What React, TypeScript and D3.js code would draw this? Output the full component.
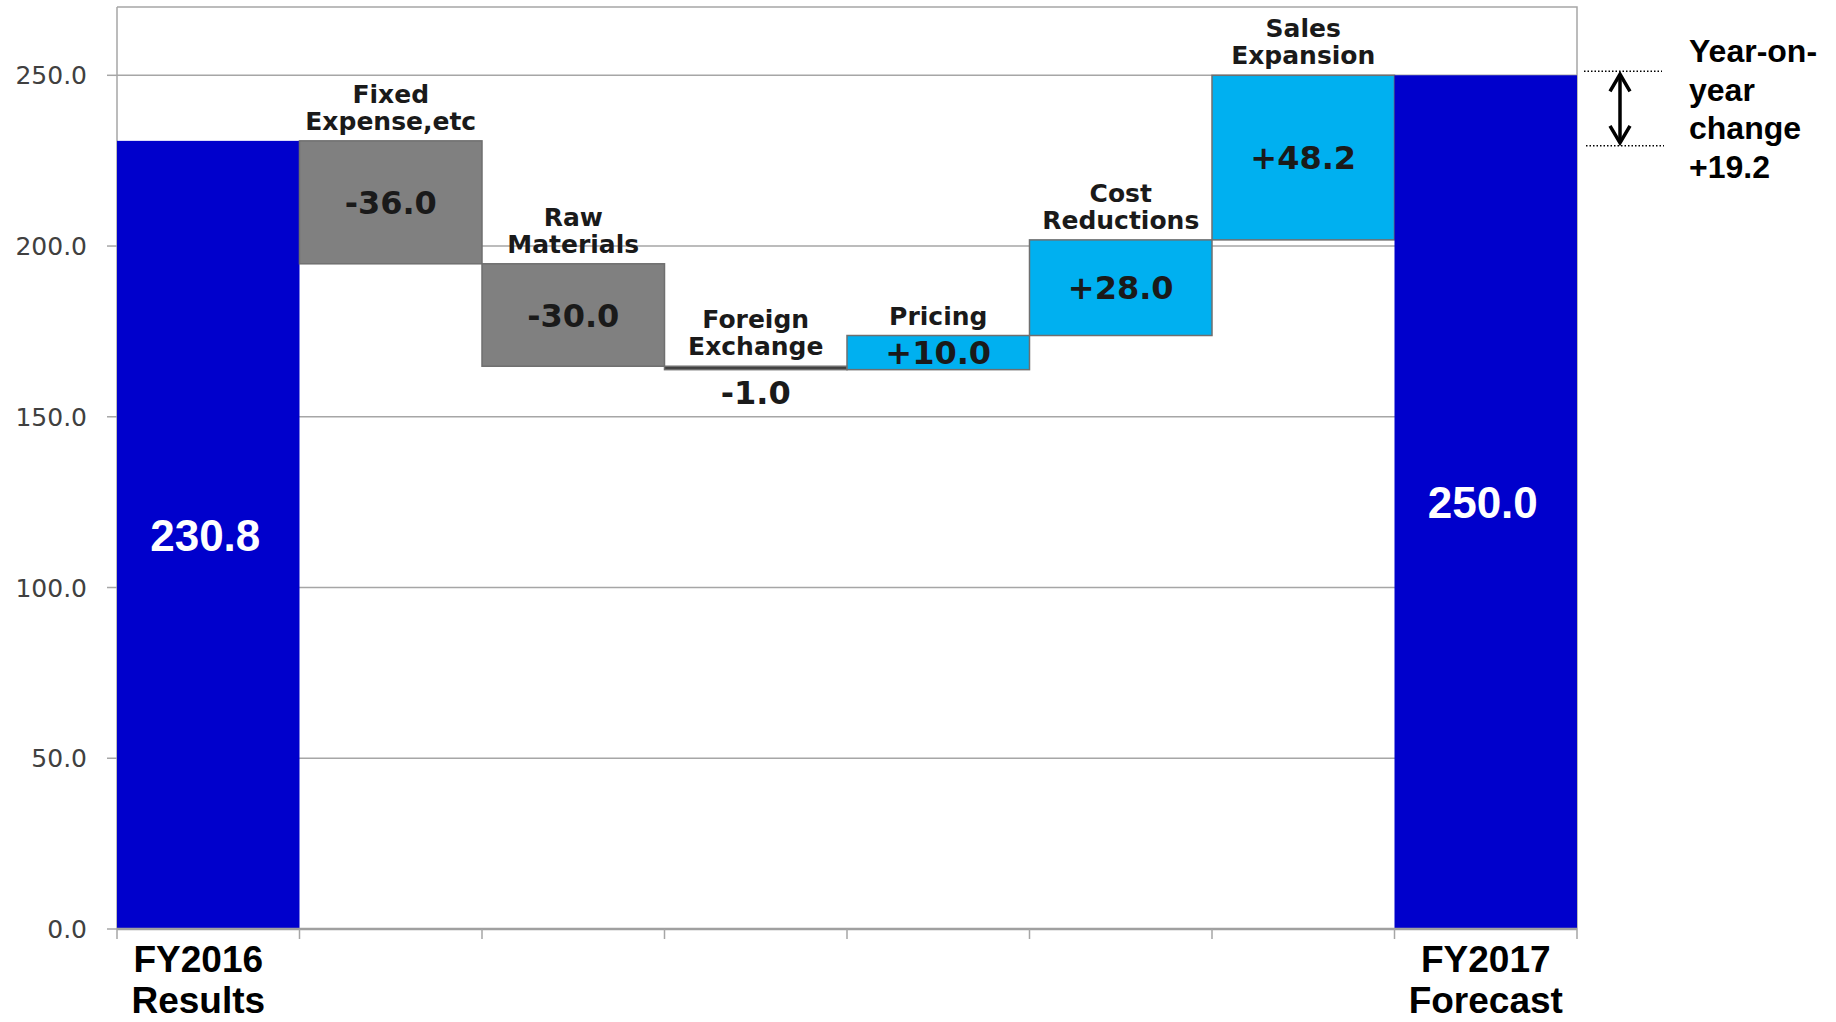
import React from 'react';
import * as d3 from 'd3';

// waterfall steps
const categories = ["FY2016 Results", "Fixed Expense,etc", "Raw Materials", "Foreign Exchange", "Pricing", "Cost Reductions", "Sales Expansion", "FY2017 Forecast"];
const values = [230.8, -36.0, -30.0, -1.0, 10.0, 28.0, 48.2, 250.0];
const kinds = ["total", "delta", "delta", "delta", "delta", "delta", "delta", "total"];
const valueLabels = ["230.8", "-36.0", "-30.0", "-1.0", "+10.0", "+28.0", "+48.2", "250.0"];
const insideLabels = [[], ["Fixed", "Expense,etc"], ["Raw", "Materials"], ["Foreign", "Exchange"], ["Pricing"], ["Cost", "Reductions"], ["Sales", "Expansion"], []];
const axisLabels = [["FY2016", "Results"], [], [], [], [], [], [], ["FY2017", "Forecast"]];
const yTicks = [0, 50, 100, 150, 200, 250];
const changeLines = ["Year-on-", "year", "change", "+19.2"];

const width = 1836;
const height = 1022;
const marginLeft = 117;
const marginRight = 259;
const marginTop = 7;
const marginBottom = 93;

const colorTotal = "#0000cc";
const colorDown = "#808080";
const colorUp = "#00b0f0";
const gridColor = "#a6a6a6";
const labelFont = "'DejaVu Sans', Verdana, sans-serif";
const arialFont = "'Liberation Sans', Arial, sans-serif";

const App: React.FC = () => {
  const x = d3.scaleBand()
    .domain(categories)
    .range([marginLeft, width - marginRight])
    .padding(0);

  const y = d3.scaleLinear()
    .domain([0, 270])
    .range([height - marginBottom, marginTop]);

  // running total -> bar start / end
  let running = 0;
  const bars = categories.map((c, i) => {
    let lo: number, hi: number;
    if (kinds[i] === "total") {
      lo = 0; hi = values[i];
      running = values[i];
    } else {
      const start = running;
      const end = running + values[i];
      lo = Math.min(start, end); hi = Math.max(start, end);
      running = end;
    }
    return { c, i, lo, hi, v: values[i], kind: kinds[i] };
  });

  const bw = x.bandwidth();
  const plotRight = width - marginRight;
  const plotBottom = height - marginBottom;

  const startTotal = values[0];
  const endTotal = values[values.length - 1];
  const arrowX = plotRight + 43;
  const yTop = y(endTotal) - 4;
  const yBot = y(startTotal) + 5;

  return (
    <svg width={width} height={height} style={{ position: 'absolute', left: 0, top: 0, background: '#fff' }}>
      {/* gridlines */}
      {yTicks.filter(t => t > 0).map(t => (
        <line key={t} x1={marginLeft} x2={plotRight} y1={y(t)} y2={y(t)} stroke={gridColor} strokeWidth={1.5} />
      ))}
      {/* plot border */}
      <path d={`M${marginLeft},${marginTop}H${plotRight}V${plotBottom}`} fill="none" stroke={gridColor} strokeWidth={1.5} />
      <line x1={marginLeft} x2={marginLeft} y1={marginTop} y2={plotBottom} stroke={gridColor} strokeWidth={1.5} />

      {/* y axis ticks + labels */}
      {yTicks.map(t => (
        <g key={t}>
          <line x1={marginLeft - 10} x2={marginLeft} y1={y(t)} y2={y(t)} stroke={gridColor} strokeWidth={1.5} />
          <text x={marginLeft - 30} y={y(t)} dy="0.36em" textAnchor="end" fontFamily={labelFont} fontSize={25} fill="#404040">{d3.format(".1f")(t)}</text>
        </g>
      ))}

      {/* bars */}
      {bars.map(b => {
        const x0 = x(b.c)!;
        const top = y(b.hi);
        const h = y(b.lo) - y(b.hi);
        const fill = b.kind === "total" ? colorTotal : b.v < 0 ? colorDown : colorUp;
        const thin = h < 6;
        return (
          <rect key={b.c} x={x0} y={top} width={bw} height={h}
            fill={thin ? "#404040" : fill}
            stroke={b.kind === "total" ? "none" : "#6f6f6f"} strokeWidth={1.5} />
        );
      })}

      {/* x axis line + ticks */}
      <line x1={marginLeft} x2={plotRight} y1={plotBottom} y2={plotBottom} stroke="#a0a0a0" strokeWidth={2.5} />
      {d3.range(categories.length + 1).map(k => {
        const xx = marginLeft + k * x.step();
        return <line key={k} x1={xx} x2={xx} y1={plotBottom} y2={plotBottom + 10} stroke={gridColor} strokeWidth={1.5} />;
      })}

      {/* category labels above delta bars */}
      {bars.map(b => {
        const lines = insideLabels[b.i];
        const cx = x(b.c)! + bw / 2;
        const base = y(b.hi) - 11;
        return lines.map((ln, k) => (
          <text key={b.c + k} x={cx} y={base - (lines.length - 1 - k) * 27} textAnchor="middle"
            fontFamily={labelFont} fontWeight="bold" fontSize={25} fill="#1a1a1a">{ln}</text>
        ));
      })}

      {/* value labels */}
      {bars.map(b => {
        const cx = x(b.c)! + bw / 2;
        const h = y(b.lo) - y(b.hi);
        if (b.kind === "total") {
          return <text key={"v" + b.c} x={cx - 3} y={(y(b.lo) + y(b.hi)) / 2} dy="0.36em" textAnchor="middle"
            fontFamily={arialFont} fontWeight="bold" fontSize={44} fill="#fff">{valueLabels[b.i]}</text>;
        }
        const cy = h < 6 ? y(b.lo) + 23 : (y(b.lo) + y(b.hi)) / 2;
        return <text key={"v" + b.c} x={cx} y={cy} dy="0.36em" textAnchor="middle"
          fontFamily={labelFont} fontWeight="bold" fontSize={32} fill="#1a1a1a">{valueLabels[b.i]}</text>;
      })}

      {/* axis category labels */}
      {categories.map((c, i) => axisLabels[i].map((ln, k) => (
        <text key={c + k} x={x(c)! + bw / 2 - (i === 0 ? 10 : 0)} y={plotBottom + 43 + k * 41} textAnchor="middle"
          fontFamily={arialFont} fontWeight="bold" fontSize={37} fill="#000">{ln}</text>
      )))}

      {/* year-on-year annotation */}
      <line x1={plotRight + 7} x2={plotRight + 85} y1={yTop} y2={yTop} stroke="#000" strokeWidth={1.5} strokeDasharray="1.5,2" />
      <line x1={plotRight + 9} x2={plotRight + 87} y1={yBot} y2={yBot} stroke="#000" strokeWidth={1.5} strokeDasharray="1.5,2" />
      <line x1={arrowX} x2={arrowX} y1={yTop + 3} y2={yBot - 3} stroke="#000" strokeWidth={3.5} />
      <path d={`M${arrowX - 10},${yTop + 20}L${arrowX},${yTop + 3}L${arrowX + 10},${yTop + 20}`} fill="none" stroke="#000" strokeWidth={3.5} />
      <path d={`M${arrowX - 10},${yBot - 20}L${arrowX},${yBot - 3}L${arrowX + 10},${yBot - 20}`} fill="none" stroke="#000" strokeWidth={3.5} />
      {changeLines.map((ln, k) => (
        <text key={ln} x={plotRight + 112} y={62 + k * 38.5} fontFamily={arialFont} fontWeight="bold" fontSize={32} fill="#000">{ln}</text>
      ))}
    </svg>
  );
};

export default App;
